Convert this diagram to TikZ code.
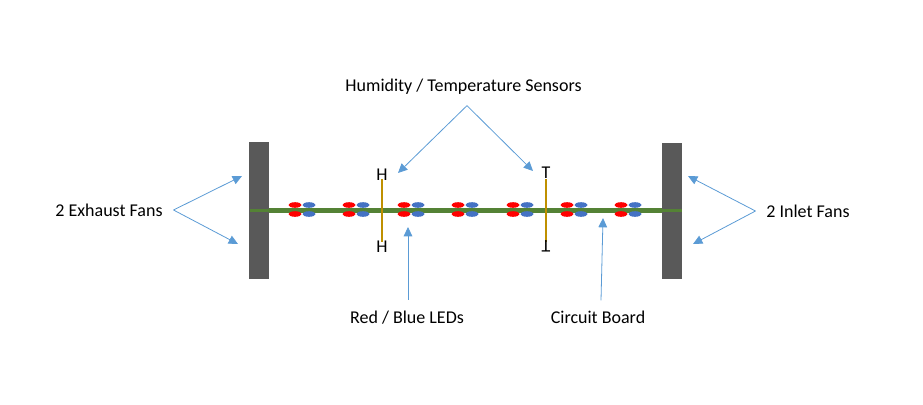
\documentclass[tikz,border=0pt]{standalone}
\usepackage{fontspec}
\setmainfont{Carlito}
\usepackage{xcolor}
\definecolor{FanGrey}{HTML}{595959}
\definecolor{BoardGreen}{HTML}{548235}
\definecolor{LedRed}{HTML}{FF0000}
\definecolor{LedBlue}{HTML}{4472C4}
\definecolor{SensorGold}{HTML}{BF9000}
\definecolor{ArrowBlue}{HTML}{5B9BD5}
\usetikzlibrary{shapes.geometric, arrows.meta, positioning}
\tikzstyle{fan} = [rectangle, fill=FanGrey, minimum width=15pt, minimum height=102.5pt, inner sep=0pt]
\tikzstyle{board} = [rectangle, fill=BoardGreen, inner sep=0pt]
\tikzstyle{led} = [ellipse, minimum width=9.75pt, minimum height=4.2pt, inner sep=0pt]
\tikzstyle{sensor} = [rectangle, fill=SensorGold, minimum width=1.8pt, minimum height=47.5pt, inner sep=0pt]
\tikzstyle{label} = [text=black, font=\fontsize{13.5}{16}\selectfont, inner sep=8pt]
\tikzstyle{letter} = [text=black, font=\fontsize{13.5}{16}\selectfont, inner sep=0pt]
\tikzstyle{arrow} = [-{Triangle[length=7pt,width=6.5pt]},color=ArrowBlue,line width=0.6pt]

\begin{document}
\begin{tikzpicture}[x=0.75pt, y=-0.75pt]
        \useasboundingbox (0,0) rectangle (923,404);

        \node [fan] (fanLeft) at (259,210.5) {};
        \node [fan] (fanRight) at (671.5,211) {};

        \node [board, minimum width=324pt, minimum height=2.4pt] (boardThin) at (466,210.5) {};
        \node [board, minimum width=294.5pt, minimum height=3.8pt] (board) at (465.5,210.5) {};

        \foreach \i/\x in {a/295, b/349, c/404, d/458, e/513, f/567, g/621} {
            \node [led, fill=LedRed] (redTop\i) at (\x,205) {};
            \node [led, fill=LedBlue] (blueTop\i) at (\x+14,205) {};
            \node [led, fill=LedRed] (redBottom\i) at (\x,214) {};
            \node [led, fill=LedBlue] (blueBottom\i) at (\x+14,214) {};
        }

        \node [sensor] (sensorLeft) at (382,210.5) {};
        \node [sensor] (sensorRight) at (546,210.5) {};
        \node [letter] (topLeft) at (382,175) {H};
        \node [letter] (bottomLeft) at (382,247) {H};
        \node [letter] (topRight) at (546,172.7) {T};
        \node [letter, rotate=180] (bottomRight) at (546,246.5) {T};

        \node [label] (exhaust) at (109,210) {2 Exhaust Fans};
        \node [label] (inlet) at (808,211) {2 Inlet Fans};
        \node [label] (humidity) at (463.5,87) {Humidity / Temperature Sensors};
        \node [label] (leds) at (407,317.5) {Red / Blue LEDs};
        \node [label] (circuit) at (598,317.5) {Circuit Board};

        \coordinate (exhaustTop) at (242,176);
        \coordinate (exhaustBottom) at (238,244);
        \coordinate (inletTop) at (688,176);
        \coordinate (inletBottom) at (693,244);
        \coordinate (humidityLeft) at (398,173);
        \coordinate (humidityRight) at (533,171);
        \coordinate (ledsEnd) at (408,227);
        \coordinate (circuitEnd) at (603,218);

        \draw [arrow] (exhaust.east) -- (exhaustTop);
        \draw [arrow] (exhaust.east) -- (exhaustBottom);
        \draw [arrow] (inlet.west) -- (inletTop);
        \draw [arrow] (inlet.west) -- (inletBottom);
        \draw [arrow] ([xshift=2.6pt]humidity.south) -- (humidityLeft);
        \draw [arrow] ([xshift=2.6pt]humidity.south) -- (humidityRight);
        \draw [arrow] ([xshift=0.75pt]leds.north) -- (ledsEnd);
        \draw [arrow] ([xshift=2.25pt]circuit.north) -- (circuitEnd);
    \end{tikzpicture}
\end{document}
